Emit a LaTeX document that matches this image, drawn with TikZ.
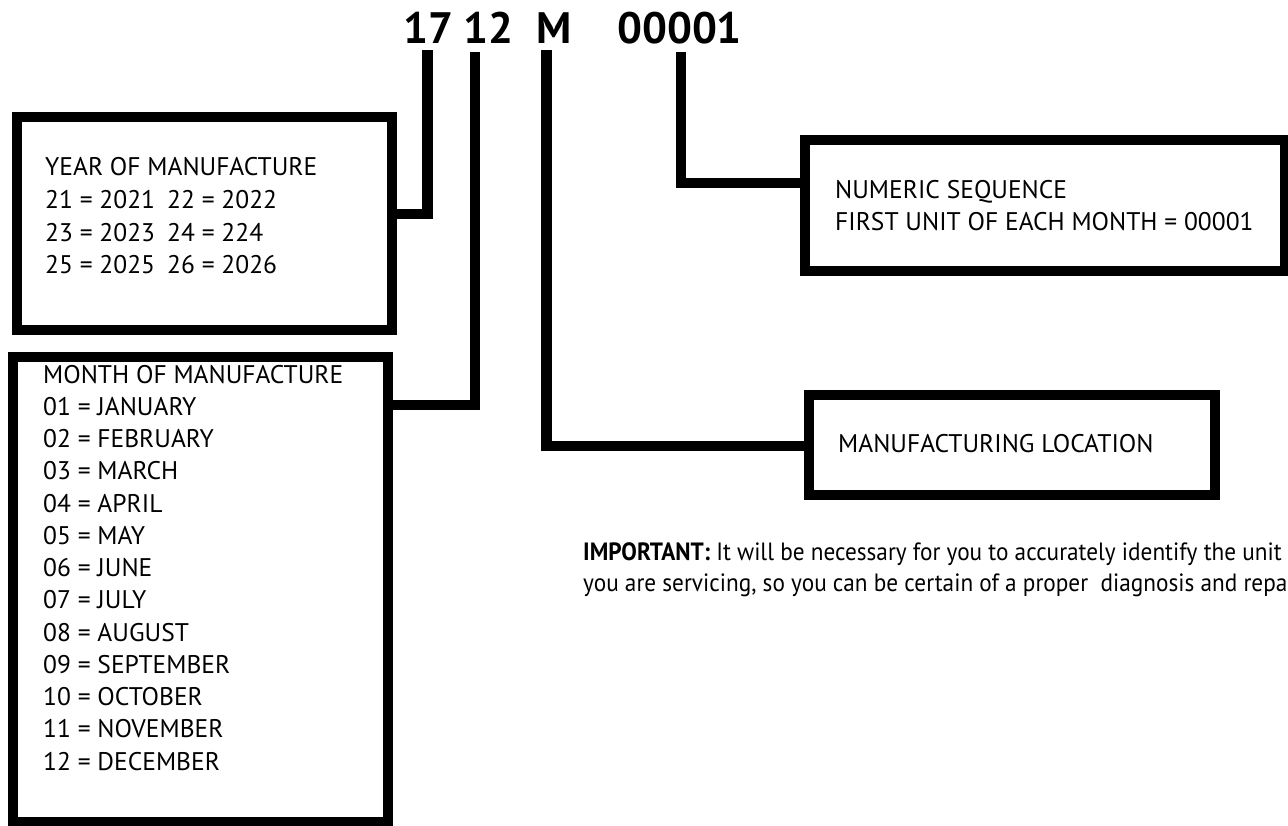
\documentclass[tikz,border=0pt]{standalone}
\usepackage{fontspec}
\setmainfont{PT Sans}
\newfontfamily\narrowfont[FakeStretch=0.93]{PT Sans}
\begin{document}
\begin{tikzpicture}[x=1pt,y=-1pt,
  box/.style={draw, line width=10.5pt, inner sep=0pt, rectangle},
  conn/.style={draw, line width=10.5pt, line join=miter},
  lbl/.style={anchor=base west, inner sep=0pt, font=\fontsize{25.5}{30}\selectfont},
  note/.style={anchor=base west, inner sep=0pt, font=\narrowfont\fontsize{25}{30}\selectfont},
  ttl/.style={anchor=base west, inner sep=0pt, font=\bfseries\fontsize{44}{50}\selectfont}]
\useasboundingbox (0,0) rectangle (1288,825);
\clip (0,0) rectangle (1288,825);

% boxes
\node[box, minimum width=375pt, minimum height=213pt] (year) at (204.5,223.5) {};
\node[box, minimum width=375pt, minimum height=465pt] (month) at (200.5,589.5) {};
\node[box, minimum width=480pt, minimum height=131pt] (numeric) at (1045,205.5) {};
\node[box, minimum width=406pt, minimum height=100pt] (loc) at (1012,445) {};

% title
\node[ttl] (t17) at (403,43) {17};
\node[ttl] (t12) at (463,43) {12};
\node[ttl] (tM) at (536,43) {M};
\node[ttl] (tnum) at (617,43) {00001};

% connectors
\coordinate (c17) at (427.5,50);  \coordinate (k17) at (427.5,214);
\coordinate (c12) at (475,52);    \coordinate (k12) at (475,405);
\coordinate (cM) at (546.5,50);   \coordinate (kM) at (546.5,446);
\coordinate (cN) at (681,52);     \coordinate (kN) at (681,183);
\draw[conn] (c17) -- (k17) -- (k17 -| year.east);
\draw[conn] (c12) -- (k12) -- (k12 -| month.east);
\draw[conn] (cM) -- (kM) -- (kM -| loc.west);
\draw[conn] (cN) -- (kN) -- (kN -| numeric.west);

% year text
\node[lbl] (yh) at (45,175) {YEAR OF MANUFACTURE};
\node[lbl] (y21) at (45,208) {21 = 2021};
\node[lbl] (y22) at (167,208) {22 = 2022};
\node[lbl] (y23) at (45,241) {23 = 2023};
\node[lbl] (y24) at (167,241) {24 = 224};
\node[lbl] (y25) at (45,273) {25 = 2025};
\node[lbl] (y26) at (167,273) {26 = 2026};

% month text
\node[lbl] (mh) at (43,383) {MONTH OF MANUFACTURE};
\foreach \t [count=\i] in {01 = JANUARY, 02 = FEBRUARY, 03 = MARCH, 04 = APRIL, 05 = MAY, 06 = JUNE, 07 = JULY, 08 = AUGUST, 09 = SEPTEMBER, 10 = OCTOBER, 11 = NOVEMBER, 12 = DECEMBER}
  \node[lbl] (m\i) at (43,{383+32.25*\i}) {\t};

% numeric text
\node[lbl] (n1) at (835,198) {NUMERIC SEQUENCE};
\node[lbl] (n2) at (835,230) {FIRST UNIT OF EACH MONTH = 00001};

% location text
\node[lbl] (l1) at (838,452) {MANUFACTURING LOCATION};

% important note (cut by the right edge, as in the reference)
\node[note] (imp1) at (583,560) {\textbf{IMPORTANT:} It will be necessary for you to accurately identify the unit};
\node[note] (imp2) at (583,591) {you are servicing, so you can be certain of a proper\ \ diagnosis and repair.};
\end{tikzpicture}
\end{document}
